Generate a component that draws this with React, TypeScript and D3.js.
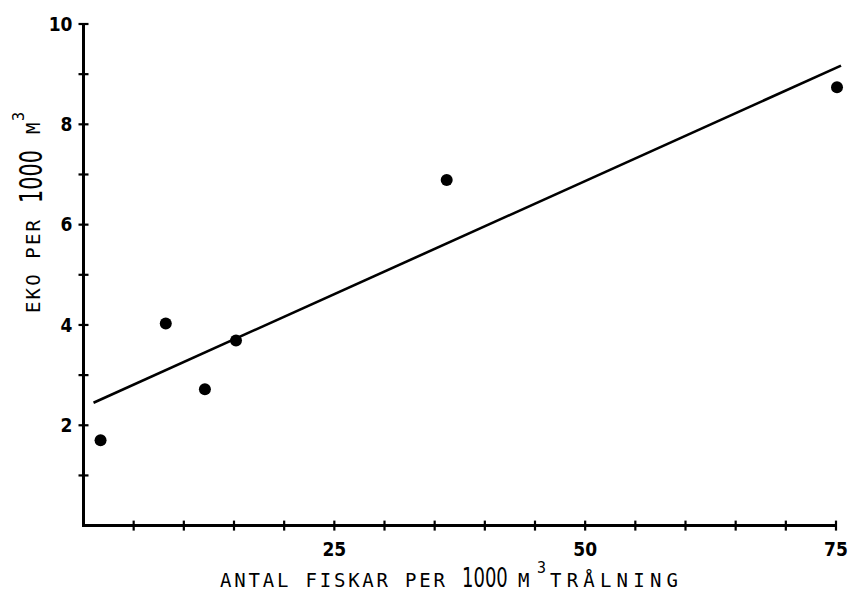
import React, { useEffect, useRef } from "react";
import * as d3 from "d3";

const xValues = [1.7, 8.2, 12.1, 15.2, 36.2, 75.1];
const yValues = [1.7, 4.03, 2.72, 3.69, 6.89, 8.74];
const fitLine = [
  { x: 1.0, y: 2.45 },
  { x: 75.5, y: 9.17 },
];
const xTickLabels = [25, 50, 75];
const yTickLabels = [2, 4, 6, 8, 10];
const xMinorTicks = d3.range(5, 80, 5);
const yMinorTicks = d3.range(1, 11, 1);

const W = 850;
const H = 593;

const mono = "'DejaVu Sans Mono', 'Liberation Mono', monospace";
const sans = "'DejaVu Sans', sans-serif";

// title pieces: text, position along the reading direction, length, font, size, baseline offset, vertical stretch
const xTitleParts = [
  { t: "ANTAL FISKAR PER", p: 220, len: 225, font: mono, size: 19, base: 0, sy: 1 },
  { t: "1000", p: 462, len: 0, font: sans, size: 18, base: 0, sy: 1.5 },
  { t: "M", p: 518, len: 0, font: mono, size: 19, base: 0, sy: 1 },
  { t: "3", p: 537, len: 0, font: mono, size: 15, base: -14, sy: 1 },
  { t: "TRÅLNING", p: 550, len: 128, font: mono, size: 19, base: 0, sy: 1 },
];
const yTitleParts = [
  { t: "EKO PER", p: 313, len: 93, font: mono, size: 19, base: 0, sy: 1 },
  { t: "1000", p: 203, len: 0, font: sans, size: 20.8, base: 2, sy: 1.55 },
  { t: "M", p: 134, len: 0, font: mono, size: 19, base: 0, sy: 1 },
  { t: "3", p: 121, len: 0, font: mono, size: 15, base: -16, sy: 1 },
];

export default function App() {
  const ref = useRef<SVGSVGElement | null>(null);

  useEffect(() => {
    const svg = d3.select(ref.current);
    svg.selectAll("*").remove();

    const x = d3.scaleLinear().domain([0, 75]).range([83.5, 836]);
    const y = d3.scaleLinear().domain([0, 10]).range([525.6, 24]);

    const g = svg.append("g");

    // axes
    g.append("line")
      .attr("x1", x(0) - 1.5).attr("x2", x(75))
      .attr("y1", y(0)).attr("y2", y(0))
      .attr("stroke", "#000").attr("stroke-width", 3);
    g.append("line")
      .attr("x1", x(0)).attr("x2", x(0))
      .attr("y1", y(0)).attr("y2", y(10))
      .attr("stroke", "#000").attr("stroke-width", 3);

    g.selectAll(".xt").data(xMinorTicks).enter().append("line")
      .attr("x1", (d) => x(d)).attr("x2", (d) => x(d))
      .attr("y1", y(0) - 5).attr("y2", y(0) + 5)
      .attr("stroke", "#000").attr("stroke-width", 2.2);
    g.selectAll(".yt").data(yMinorTicks).enter().append("line")
      .attr("x1", x(0) - 5).attr("x2", x(0) + 5)
      .attr("y1", (d) => y(d)).attr("y2", (d) => y(d))
      .attr("stroke", "#000").attr("stroke-width", 2.2);

    const tickFont = "'DejaVu Sans Condensed', 'Liberation Sans Narrow', sans-serif";
    g.selectAll(".xl").data(xTickLabels).enter().append("text")
      .attr("x", (d) => x(d)).attr("y", y(0) + 30)
      .attr("text-anchor", "middle")
      .attr("font-family", tickFont).attr("font-weight", "bold")
      .attr("font-stretch", "condensed")
      .attr("font-size", 19).attr("fill", "#000")
      .text((d) => String(d));
    g.selectAll(".yl").data(yTickLabels).enter().append("text")
      .attr("x", x(0) - 11).attr("y", (d) => y(d))
      .attr("dy", "0.36em")
      .attr("text-anchor", "end")
      .attr("font-family", tickFont).attr("font-weight", "bold")
      .attr("font-stretch", "condensed")
      .attr("font-size", 19).attr("fill", "#000")
      .text((d) => String(d));

    // regression line
    const line = d3.line<{ x: number; y: number }>()
      .x((d) => x(d.x)).y((d) => y(d.y));
    g.append("path").datum(fitLine)
      .attr("d", line).attr("fill", "none")
      .attr("stroke", "#000").attr("stroke-width", 2.6);

    // points
    g.selectAll(".pt").data(xValues).enter().append("circle")
      .attr("cx", (d) => x(d)).attr("cy", (_d, i) => y(yValues[i]))
      .attr("r", 6).attr("fill", "#000");

    // x title
    const xt = g.selectAll(".xtitle").data(xTitleParts).enter().append("text")
      .attr("transform", (d) => `translate(${d.p}, ${587 + d.base}) scale(1, ${d.sy})`)
      .attr("font-family", (d) => d.font)
      .attr("font-size", (d) => d.size)
      .attr("fill", "#000")
      .text((d) => d.t);
    xt.filter((d) => d.len > 0)
      .attr("textLength", (d) => d.len)
      .attr("lengthAdjust", "spacing");

    // y title
    const yt = g.selectAll(".ytitle").data(yTitleParts).enter().append("text")
      .attr("transform", (d) => `translate(${40 + d.base}, ${d.p}) rotate(-90) scale(1, ${d.sy})`)
      .attr("font-family", (d) => d.font)
      .attr("font-size", (d) => d.size)
      .attr("fill", "#000")
      .text((d) => d.t);
    yt.filter((d) => d.len > 0)
      .attr("textLength", (d) => d.len)
      .attr("lengthAdjust", "spacing");
  }, []);

  return (
    <div style={{ position: "absolute", left: 0, top: 0 }}>
      <svg ref={ref} width={W} height={H} style={{ background: "#fff", display: "block" }} />
    </div>
  );
}
